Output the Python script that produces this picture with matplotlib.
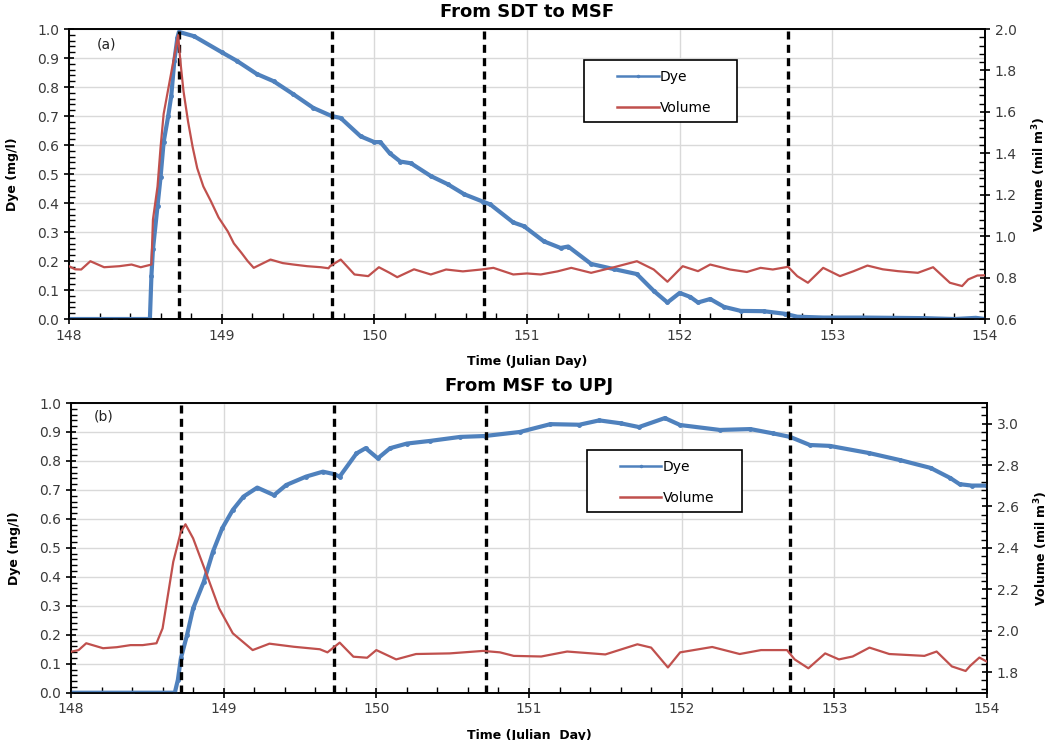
import matplotlib
matplotlib.use('Agg')
import matplotlib.pyplot as plt
from matplotlib.patches import Rectangle
from matplotlib.ticker import MultipleLocator, FormatStrFormatter

# ---- data ----
# panel (a): From SDT to MSF
dye_a_day = [148.0, 148.3, 148.53, 148.54, 148.55, 148.58, 148.60, 148.62, 148.65, 148.67,
             148.69, 148.71, 148.72, 148.82, 149.0, 149.1, 149.23, 149.34, 149.47, 149.6,
             149.72, 149.78, 149.91, 150.0, 150.04, 150.1, 150.17, 150.24, 150.37, 150.48,
             150.59, 150.71, 150.76, 150.91, 150.98, 151.11, 151.22, 151.27, 151.42, 151.57,
             151.72, 151.83, 151.92, 152.0, 152.07, 152.12, 152.2, 152.29, 152.4, 152.55,
             152.69, 152.77, 152.94, 153.2, 153.6, 153.8, 153.94, 154.0]
dye_a = [0.0, 0.0, 0.0, 0.15, 0.24, 0.39, 0.49, 0.61, 0.70, 0.77,
         0.89, 0.97, 0.99, 0.975, 0.92, 0.89, 0.845, 0.82, 0.775, 0.728,
         0.70, 0.693, 0.63, 0.61, 0.61, 0.572, 0.543, 0.537, 0.493, 0.465,
         0.43, 0.405, 0.395, 0.333, 0.32, 0.268, 0.245, 0.25, 0.19, 0.172,
         0.155, 0.097, 0.057, 0.09, 0.076, 0.057, 0.069, 0.042, 0.028, 0.027,
         0.018, 0.008, 0.005, 0.005, 0.003, 0.0, 0.004, 0.0]

vol_a_day = [148.0, 148.04, 148.08, 148.14, 148.23, 148.33, 148.41, 148.47, 148.54, 148.55,
             148.58, 148.60, 148.62, 148.67, 148.715, 148.73, 148.75, 148.78, 148.81, 148.84,
             148.88, 148.93, 148.98, 149.04, 149.08, 149.13, 149.17, 149.21, 149.32, 149.4,
             149.47, 149.56, 149.65, 149.7, 149.71, 149.78, 149.87, 149.96, 150.03, 150.1,
             150.15, 150.26, 150.37, 150.47, 150.58, 150.7, 150.78, 150.91, 151.0, 151.09,
             151.2, 151.29, 151.42, 151.57, 151.72, 151.83, 151.92, 152.02, 152.12, 152.2,
             152.33, 152.44, 152.53, 152.61, 152.71, 152.77, 152.84, 152.94, 153.05, 153.14,
             153.23, 153.33, 153.43, 153.56, 153.66, 153.77, 153.85, 153.89, 153.95, 154.0]
vol_a = [0.855, 0.84, 0.839, 0.879, 0.85, 0.855, 0.863, 0.85, 0.863, 1.08,
         1.24, 1.43, 1.59, 1.79, 1.97, 1.841, 1.70, 1.553, 1.43, 1.328,
         1.24, 1.168, 1.09, 1.023, 0.965, 0.919, 0.88, 0.847, 0.887, 0.87,
         0.863, 0.855, 0.85, 0.845, 0.855, 0.887, 0.815, 0.807, 0.85, 0.823,
         0.802, 0.84, 0.815, 0.839, 0.83, 0.839, 0.847, 0.815, 0.82, 0.815,
         0.83, 0.847, 0.823, 0.85, 0.879, 0.839, 0.78, 0.855, 0.831, 0.863,
         0.839, 0.827, 0.847, 0.839, 0.852, 0.807, 0.775, 0.847, 0.807, 0.831,
         0.858, 0.84, 0.831, 0.823, 0.85, 0.775, 0.759, 0.791, 0.81, 0.811]

# panel (b): From MSF to UPJ
dye_b_day = [148.0, 148.4, 148.68, 148.70, 148.72, 148.76, 148.80, 148.87, 148.93, 148.99,
             149.06, 149.13, 149.22, 149.33, 149.41, 149.54, 149.65, 149.72, 149.76, 149.87,
             149.93, 150.01, 150.09, 150.2, 150.35, 150.55, 150.71, 150.94, 151.14, 151.33,
             151.46, 151.6, 151.72, 151.89, 151.99, 152.25, 152.45, 152.6, 152.71, 152.84,
             152.97, 153.23, 153.43, 153.63, 153.76, 153.82, 153.9, 154.0]
dye_b = [0.0, 0.0, 0.0, 0.044, 0.119, 0.199, 0.291, 0.383, 0.487, 0.567,
         0.631, 0.677, 0.708, 0.682, 0.717, 0.746, 0.763, 0.755, 0.746, 0.826,
         0.844, 0.809, 0.844, 0.86, 0.869, 0.883, 0.886, 0.90, 0.927, 0.925,
         0.94, 0.93, 0.917, 0.948, 0.924, 0.907, 0.91, 0.895, 0.883, 0.855,
         0.852, 0.827, 0.803, 0.776, 0.741, 0.72, 0.715, 0.715]

vol_b_day = [148.0, 148.05, 148.10, 148.21, 148.3, 148.39, 148.47, 148.56, 148.60, 148.67,
             148.72, 148.75, 148.80, 148.89, 148.97, 149.06, 149.19, 149.30, 149.46, 149.63,
             149.68, 149.76, 149.85, 149.94, 150.0, 150.13, 150.26, 150.48, 150.70, 150.81,
             150.90, 151.08, 151.25, 151.50, 151.71, 151.80, 151.91, 151.99, 152.20, 152.38,
             152.52, 152.69, 152.74, 152.83, 152.94, 153.03, 153.12, 153.23, 153.36, 153.59,
             153.67, 153.77, 153.86, 153.89, 153.95, 154.0]
vol_b = [1.898, 1.906, 1.939, 1.915, 1.92, 1.93, 1.93, 1.939, 2.011, 2.333,
         2.478, 2.514, 2.446, 2.269, 2.108, 1.987, 1.906, 1.937, 1.922, 1.91,
         1.895, 1.942, 1.874, 1.869, 1.906, 1.861, 1.887, 1.89, 1.902, 1.895,
         1.878, 1.875, 1.899, 1.885, 1.934, 1.918, 1.822, 1.895, 1.921, 1.887,
         1.906, 1.906, 1.861, 1.818, 1.89, 1.861, 1.875, 1.918, 1.887, 1.878,
         1.899, 1.827, 1.805, 1.83, 1.87, 1.85]

event_days = [148.72, 149.72, 150.72, 152.71]

blue = '#4F81BD'
red = '#C0504D'
tick_col = '#3a3a3a'


def style_axes(ax, ax2, vlim):
    ax.set_xlim(148, 154)
    ax.set_ylim(0, 1.0)
    ax.xaxis.set_major_locator(MultipleLocator(1))
    ax.xaxis.set_minor_locator(MultipleLocator(0.2))
    ax.yaxis.set_major_locator(MultipleLocator(0.1))
    ax.yaxis.set_minor_locator(MultipleLocator(0.02))
    ax.yaxis.set_major_formatter(FormatStrFormatter('%.1f'))
    ax.grid(True, which='major', color='#d9d9d9', linewidth=1.0)
    ax.set_axisbelow(True)
    ax.tick_params(which='major', direction='inout', length=7, width=1.2,
                   labelsize=10, labelcolor=tick_col)
    ax.tick_params(which='minor', direction='in', length=4, width=1.0)
    ax2.set_ylim(*vlim)
    ax2.yaxis.set_major_locator(MultipleLocator(0.2))
    ax2.yaxis.set_minor_locator(MultipleLocator(0.04))
    ax2.yaxis.set_major_formatter(FormatStrFormatter('%.1f'))
    ax2.tick_params(which='major', direction='inout', length=7, width=1.2,
                    labelsize=10, labelcolor=tick_col)
    ax2.tick_params(which='minor', direction='in', length=4, width=1.0)
    for a in (ax, ax2):
        for s in a.spines.values():
            s.set_linewidth(1.2)
            s.set_color('black')


def draw_panel(ax, dday, dye, vday, vol, vlim, title, tag, xlabel, box):
    ax2 = ax.twinx()
    for d in event_days:
        ax.axvline(d, color='black', linewidth=2.4, linestyle=(0, (2.4, 1.6)), zorder=4)
    l1, = ax.plot(dday, dye, color=blue, linewidth=3, marker='o', markersize=2.5,
                  zorder=3, label='Dye')
    l2, = ax2.plot(vday, vol, color=red, linewidth=1.6, zorder=3, label='Volume')
    style_axes(ax, ax2, vlim)

    ax.text(0.5, 1.058, title, transform=ax.transAxes, ha='center', va='center',
            fontsize=13, fontweight='bold')
    ax.text(tag[1], tag[2], tag[0], transform=ax.transAxes, ha='center', va='center',
            fontsize=10, color='#222222')
    ax.set_xlabel(xlabel, fontsize=9, fontweight='bold')
    ax.xaxis.set_label_coords(0.5, -0.125)
    ax.set_ylabel('Dye (mg/l)', fontsize=9, fontweight='bold')
    ax.yaxis.set_label_coords(-0.055, 0.5)
    # right-hand label placed as plain text so it stays inside the figure
    ax2.text(1.059, 0.5, 'Volume (mil m$^\\mathbf{3}$)', transform=ax2.transAxes,
             rotation=90, ha='center', va='center', fontsize=9, fontweight='bold')

    # legend box
    x0, y0, w, h = box
    ax2.add_patch(Rectangle((x0, y0), w, h, transform=ax2.transAxes, facecolor='white',
                            edgecolor='black', linewidth=1.2, zorder=6))
    leg = ax2.legend([l1, l2], ['Dye', 'Volume'], loc='upper left',
                     bbox_to_anchor=(x0 + 0.027, y0 + h - 0.005), frameon=False,
                     fontsize=10, handlelength=3.0, handletextpad=0.1,
                     labelspacing=1.25, borderaxespad=0.2, markerscale=0.6)
    leg.set_zorder(7)
    for ln in leg.get_lines():
        ln.set_linewidth(1.8)
    return ax2


fig = plt.figure(figsize=(10.5, 7.4), dpi=100)
ax_a = fig.add_axes([0.0657, 0.5689, 0.8724, 0.3919])
ax_b = fig.add_axes([0.0676, 0.0639, 0.8724, 0.3915])

draw_panel(ax_a, dye_a_day, dye_a, vol_a_day, vol_a, (0.6, 2.0), 'From SDT to MSF',
           ('(a)', 0.041, 0.945), 'Time (Julian Day)', (0.562, 0.679, 0.167, 0.214))
draw_panel(ax_b, dye_b_day, dye_b, vol_b_day, vol_b, (1.7, 3.1), 'From MSF to UPJ',
           ('(b)', 0.036, 0.955), 'Time (Julian  Day)', (0.563, 0.624, 0.169, 0.214))

fig.savefig('out.png', dpi=100)
